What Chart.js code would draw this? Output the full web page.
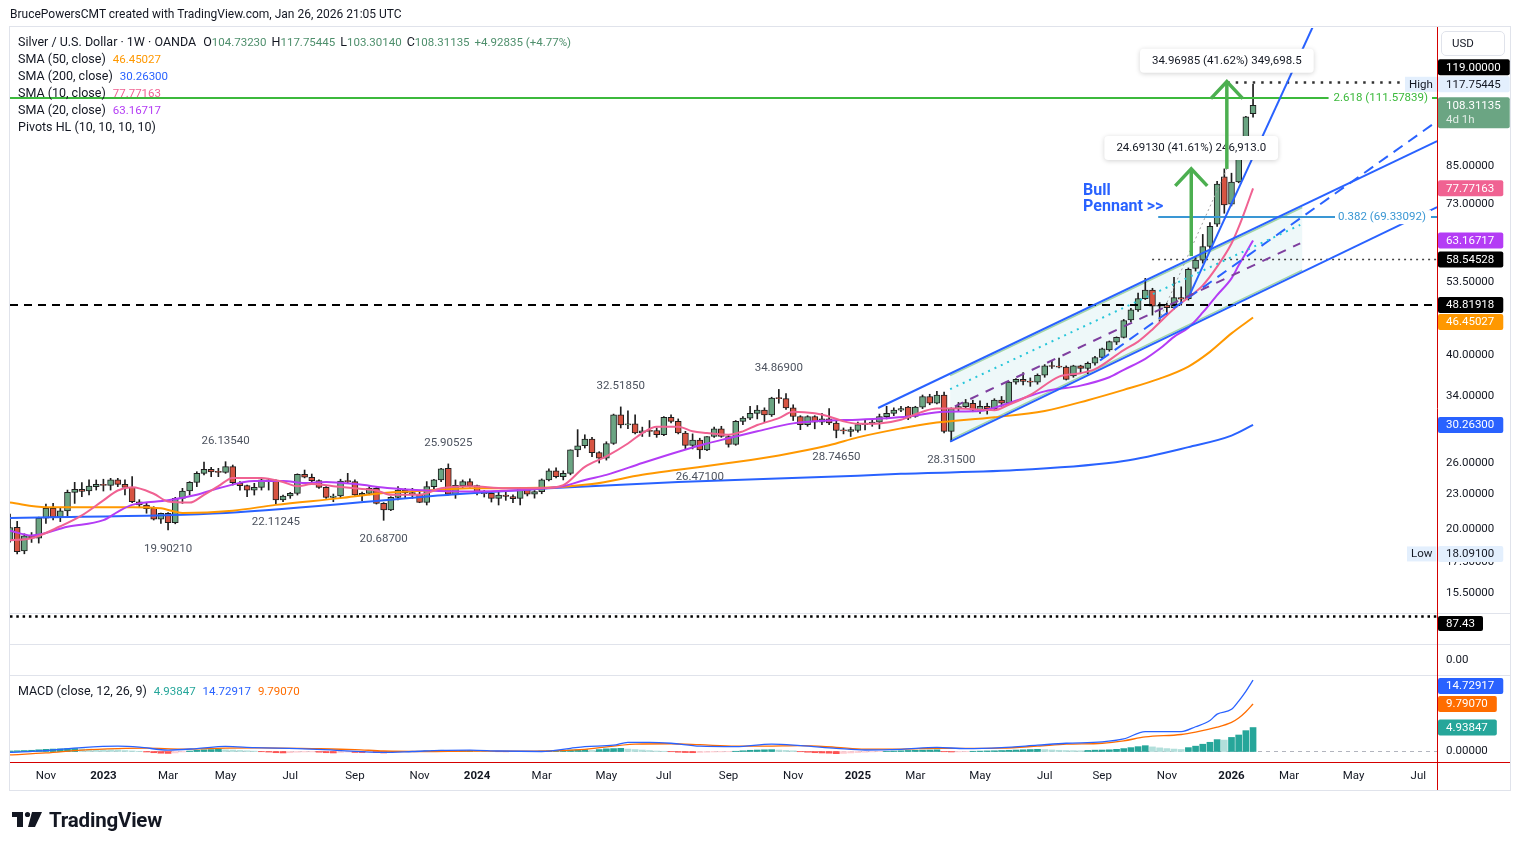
<!DOCTYPE html>
<html><head><meta charset="utf-8"><title>Silver / U.S. Dollar 1W</title>
<script src="https://cdn.jsdelivr.net/npm/chart.js@4.4.1/dist/chart.umd.min.js"></script>
<style>
html,body{margin:0;padding:0;background:#fff;}
body{width:1521px;height:850px;position:relative;overflow:hidden;font-family:Roboto,"Liberation Sans",Arial,sans-serif;color:#131722;}
.a{position:absolute;white-space:nowrap;}
canvas{position:absolute;}
#hdr{left:10px;top:6px;font-size:12px;line-height:16px;}
#legend{left:18px;top:33px;font-size:12.5px;}
#legend > div{height:17px;line-height:17px;overflow:visible;}
#mleg{left:18px;top:682px;font-size:12.5px;height:17px;line-height:17px;}
.g{color:#4e8f6c;font-size:11.5px;line-height:1}
.v{font-size:11.5px;line-height:1}
.sp{margin-left:7px}
.s5{margin-left:5px}
#usd{left:1441px;top:31px;width:64px;height:25px;border:1px solid #e0e3eb;border-radius:5px;box-sizing:border-box;font-size:11.5px;line-height:23px;padding-left:10px;}
#l87{left:1438px;top:616px;height:15px;line-height:15px;padding:0 8px;background:#000;color:#fff;font-size:11.5px;border-radius:2px;}
#l0{left:1446px;top:651px;font-size:11.5px;line-height:16px;}
#tv{left:49px;top:807px;font-size:20.5px;font-weight:bold;letter-spacing:-0.2px;line-height:26px;}
</style></head><body>
<canvas id="main" width="1500" height="585" style="left:10px;top:28px;width:1500px;height:585px"></canvas>
<canvas id="macd" width="1500" height="115" style="left:10px;top:675px;width:1500px;height:115px"></canvas>
<canvas id="fg" width="1521" height="850" style="left:0;top:0;width:1521px;height:850px"></canvas>
<div id="hdr" class="a">BrucePowersCMT created with TradingView.com, Jan 26, 2026 21:05 UTC</div>
<div id="legend" class="a">
<div>Silver / U.S. Dollar · 1W · OANDA<span class="sp">O</span><span class="g">104.73230</span><span class="s5">H</span><span class="g">117.75445</span><span class="s5">L</span><span class="g">103.30140</span><span class="s5">C</span><span class="g">108.31135</span><span class="s5 g">+4.92835 (+4.77%)</span></div>
<div>SMA (50, close)<span class="sp v" style="color:#ff9800">46.45027</span></div>
<div>SMA (200, close)<span class="sp v" style="color:#2962ff">30.26300</span></div>
<div>SMA (10, close)<span class="sp v" style="color:#f06292">77.77163</span></div>
<div>SMA (20, close)<span class="sp v" style="color:#b43cf5">63.16717</span></div>
<div>Pivots HL (10, 10, 10, 10)</div>
</div>
<div id="mleg" class="a">MACD (close, 12, 26, 9)<span class="sp v" style="color:#26a69a">4.93847</span><span class="sp v" style="color:#2962ff">14.72917</span><span class="sp v" style="color:#ff6d00">9.79070</span></div>
<div id="usd" class="a">USD</div>
<div id="l87" class="a">87.43</div>
<div id="l0" class="a">0.00</div>
<div id="tv" class="a">TradingView</div>
<script>
// ---------------- DATA (weekly candles, week 0 = 2022-10-03) ----------------
const weekStart = '2022-10-03';
const opens = [
19.05,20.12,18.31,19.47,19.26,20.87,21.70,20.95,21.48,23.12,
23.40,23.25,23.66,23.88,23.78,24.30,23.88,23.59,22.28,21.99,
21.70,20.78,21.28,20.49,22.58,23.25,24.07,24.95,25.35,25.08,
25.05,25.62,23.98,23.75,23.34,23.59,24.30,24.20,22.43,22.79,
23.03,24.85,24.56,24.23,23.59,22.67,22.79,24.20,24.14,22.88,
23.03,23.50,22.13,21.56,22.67,23.34,23.10,22.97,22.22,23.66,
24.30,25.45,22.90,23.75,24.14,23.75,23.10,23.03,22.58,22.88,
22.73,22.58,23.40,22.95,23.19,24.30,25.20,24.62,24.95,27.40,
27.85,28.60,27.10,26.50,28.10,31.50,30.25,30.40,29.30,29.55,
29.60,29.10,31.20,30.70,29.30,27.90,28.50,27.40,28.90,29.80,
28.90,28.00,30.70,31.10,31.70,32.10,31.50,33.70,33.60,32.40,
31.30,30.30,31.30,30.60,31.00,30.50,29.60,29.50,29.60,30.30,
30.40,30.60,31.28,31.70,32.10,32.50,31.30,32.50,33.90,33.00,
34.10,29.50,32.30,32.55,33.00,32.10,32.60,32.30,33.40,33.00,
35.90,36.30,36.00,35.90,36.90,38.30,38.20,38.10,36.80,38.30,
37.90,38.70,39.60,40.80,42.10,42.90,46.00,47.90,50.10,51.80,
48.60,48.80,48.30,50.30,50.10,56.50,58.40,61.65,67.40,81.40,
73.00,79.80,89.80,104.7323];
const highs = [
21.20,20.60,19.60,19.70,20.95,22.07,22.13,21.70,23.34,24.07,
24.04,24.30,24.30,24.37,24.46,24.46,24.30,24.62,22.46,22.19,
21.84,21.30,21.34,22.67,23.50,24.14,25.11,26.09,25.55,25.45,
26.1354,25.79,24.14,23.81,23.98,24.46,24.37,24.30,22.88,23.12,
24.90,25.28,24.88,24.30,23.66,22.97,24.37,24.95,24.30,23.16,
23.66,23.66,22.20,22.73,23.66,23.50,23.50,23.20,24.14,24.37,
25.45,25.90525,24.30,24.30,24.40,23.80,23.30,23.20,23.20,23.20,
22.90,23.60,23.50,23.30,24.40,25.40,25.50,25.20,27.40,29.70,
29.10,28.80,27.20,28.30,31.60,32.5185,32.00,31.50,30.00,30.80,
29.90,31.30,31.50,31.00,29.50,29.20,28.70,28.90,30.00,30.10,
29.00,30.80,31.30,32.60,32.70,32.40,33.80,34.869,34.30,32.80,
31.40,31.40,31.40,31.70,32.30,30.70,29.90,30.00,30.60,30.86,
30.90,31.60,32.60,32.40,32.60,32.60,32.60,34.10,34.20,34.60,
34.50,32.40,33.10,33.50,33.40,33.30,33.00,33.60,33.90,36.00,
36.40,37.30,36.50,37.10,38.50,39.10,39.50,38.30,38.40,38.40,
38.90,39.80,41.10,42.30,43.00,46.10,48.20,51.20,54.30,52.20,
49.30,49.20,54.50,52.50,56.60,59.00,64.70,67.80,80.00,84.03,
82.60,91.90,103.60,117.75445];
const lows = [
18.95,18.091,18.10,18.94,18.89,20.44,20.71,20.58,21.00,22.13,
22.73,22.88,23.34,23.25,23.34,23.66,22.88,22.20,21.79,21.28,
20.71,20.44,19.9021,20.40,22.13,22.88,23.66,24.78,24.62,24.62,
24.95,23.81,23.34,22.73,22.88,23.34,23.34,22.11245,22.28,22.58,
22.88,24.50,24.04,23.50,22.58,22.28,22.58,23.98,22.85,22.37,
22.90,22.07,20.687,21.50,22.43,22.58,22.58,22.19,21.99,23.40,
24.14,22.88,22.58,23.50,23.60,22.90,22.70,22.25,21.99,22.40,
22.20,21.99,22.80,22.60,23.00,24.20,24.50,24.30,24.80,26.66,
27.60,26.66,26.00,26.30,28.00,29.90,29.80,29.20,28.90,28.90,
28.80,29.00,30.50,29.20,27.50,27.50,26.471,27.30,28.80,28.80,
27.70,27.90,30.30,30.90,31.00,30.60,31.30,33.00,32.20,30.80,
29.70,30.10,29.80,30.30,30.30,28.7465,29.20,28.90,29.40,29.66,
30.10,29.80,31.00,31.40,31.90,30.90,31.20,32.30,32.80,32.90,
29.30,28.315,32.00,32.30,31.90,31.70,31.60,32.10,32.60,32.90,
35.60,35.50,35.30,35.60,36.60,37.90,38.00,36.20,36.60,37.20,
37.10,38.40,39.50,40.60,41.70,42.80,45.70,47.60,49.90,46.90,
45.70,46.90,48.00,48.80,49.80,55.90,57.70,61.20,66.80,70.40,
72.50,79.50,88.90,103.3014];
const closes = [
20.10,18.26,19.44,19.26,20.87,21.70,20.95,21.48,23.12,23.40,
23.22,23.72,23.88,23.78,24.30,23.88,23.59,22.28,21.99,21.67,
20.78,21.28,20.49,22.58,23.25,24.07,24.95,25.35,25.08,25.05,
25.62,24.04,23.75,23.34,23.59,24.30,24.20,22.43,22.79,23.03,
24.85,24.56,24.23,23.59,22.67,22.79,24.20,24.14,22.88,23.03,
23.50,22.13,21.56,22.67,23.34,23.10,22.97,22.22,23.66,24.30,
25.40,22.95,23.78,24.14,23.75,23.10,23.00,22.58,22.88,22.75,
22.55,23.50,22.95,23.19,24.30,25.20,24.62,24.95,27.40,27.85,
28.60,27.10,26.50,28.10,31.50,30.25,30.40,29.30,29.55,29.50,
29.10,31.20,30.70,29.30,27.90,28.50,27.40,28.90,29.80,28.90,
28.00,30.70,31.10,31.70,32.10,31.50,33.70,33.60,32.40,31.30,
30.30,31.30,30.60,31.00,30.50,29.60,29.55,29.70,30.30,30.40,
30.60,31.28,31.70,32.10,32.30,31.10,32.50,33.90,33.00,34.10,
29.50,32.30,32.55,33.10,32.10,32.60,32.30,33.40,33.00,35.90,
36.30,36.00,35.90,36.90,38.30,38.20,38.10,36.30,38.30,37.90,
38.70,39.60,41.00,42.20,42.90,45.90,47.90,50.10,51.80,48.60,
48.80,48.30,50.30,50.00,56.30,58.40,61.65,66.80,79.10,72.80,
79.70,89.80,103.38,108.31135];

// moving averages (week index, value)
const sma10Idx = [0,3,7,10,13,15,17,20,22,25,27,29,31,35,38,40,42,45,48,51,53,57,60,64,69,74,77,80,83,86,88,90,93,95,97,100,102,104,107,109,112,114,116,118,121,124,127,129,132,137,139,142,146,149,151,155,157,159,162,164,166,168,170,171,172,173];
const sma10Val = [19.1,19.26,20.2,21.1,22.4,23.3,23.6,23.0,22.3,22.2,22.9,23.7,24.5,24.5,24.1,23.7,23.9,23.7,23.5,23.3,22.9,22.9,23.5,23.7,23.5,23.5,23.8,25.6,26.7,28.1,29.3,30.05,30.05,29.5,29.3,29.1,29.5,30.25,31.1,31.9,31.7,31.3,30.7,30.4,30.45,30.9,31.9,32.3,32.3,32.1,32.8,34.1,36.7,37.2,37.8,40.8,42.2,44.3,48.1,50.3,52.8,56.9,62.4,66.6,71.8,77.77163];
const sma20Idx = [0,3,8,13,15,17,22,26,29,34,38,41,44,48,53,58,64,70,74,77,80,83,88,93,97,100,104,109,114,118,125,130,135,139,144,149,153,155,158,160,162,164,166,168,170,171,172,173];
const sma20Val = [19.85,19.47,20.17,20.7,21.4,22.0,22.4,22.9,23.5,24.2,24.2,24.0,24.1,23.9,23.5,23.3,23.2,23.3,23.5,23.7,24.3,24.8,26.0,27.2,28.1,28.7,29.5,30.45,30.8,30.9,31.3,31.9,32.0,33.0,34.6,35.4,36.6,37.7,39.4,41.0,43.0,44.6,47.4,50.8,54.3,57.2,60.1,63.16717];
const sma50Idx = [0,5,17,21,24,31,37,46,51,58,64,74,81,88,93,100,107,114,118,124,128,137,144,150,155,160,164,167,170,173];
const sma50Val = [22.2,21.8,21.8,21.7,21.3,21.5,22.0,22.6,23.0,23.3,23.5,23.55,23.9,24.8,25.3,26.0,26.8,27.9,28.8,29.85,30.45,31.2,32.0,33.4,34.8,36.4,38.2,40.5,43.6,46.45027];
const sma200Idx = [0,30,62,75,93,118,124,141,155,164,170,173];
const sma200Val = [20.87,21.3,22.95,23.5,24.1,24.7,24.9,25.3,26.2,27.7,29.0,30.263];

// MACD (12, 26, 9)
const macdIdx = [0,5,10,15,18,22,26,30,34,40,45,52,56,60,64,68,74,78,80,84,86,89,92,96,101,106,110,115,119,124,129,133,138,143,147,152,155,158,161,163,165,167,168,170,171,172,173];
const macdVal = [-0.2,0.2,0.8,1.1,0.9,0.3,0.6,1.05,0.8,0.6,0.3,-0.2,0.0,0.25,0.3,0.1,0.0,0.66,1.0,1.3,1.9,1.9,1.7,1.1,1.0,1.5,1.2,0.66,0.31,0.45,0.85,0.6,0.8,1.3,1.7,1.98,2.6,4.1,4.1,4.1,5.1,6.4,7.7,8.7,10.4,12.4,14.72917];
const signalIdx = [0,5,10,15,19,24,30,35,42,48,52,58,64,70,75,80,87,92,96,101,105,110,115,119,124,129,133,138,143,147,152,155,158,163,165,168,170,171,172,173];
const signalVal = [-0.7,-0.3,0.3,0.6,0.7,0.5,0.7,0.75,0.6,0.4,0.1,0.0,0.1,0.05,0.1,0.45,1.5,1.6,1.4,1.1,1.1,1.2,0.85,0.5,0.5,0.66,0.66,0.7,1.1,1.5,1.7,2.2,3.0,3.5,4.0,5.0,6.0,6.9,8.2,9.7907];
const hist = [
0.10,0.15,0.20,0.25,0.35,0.45,0.50,0.55,0.60,0.62,
0.55,0.50,0.45,0.40,0.35,0.30,0.20,0.12,0.05,-0.10,
-0.25,-0.35,-0.40,-0.30,-0.10,0.10,0.25,0.35,0.40,0.45,
0.35,0.30,0.22,0.15,0.08,-0.05,-0.12,-0.25,-0.30,-0.25,
-0.15,-0.10,-0.08,-0.15,-0.25,-0.30,-0.20,-0.12,-0.20,-0.22,
-0.15,-0.22,-0.30,-0.20,-0.10,-0.05,0.02,0.05,0.12,0.18,
0.25,0.20,0.15,0.18,0.20,0.12,0.08,0.02,-0.05,-0.06,
-0.04,0.00,0.03,0.02,0.08,0.12,0.18,0.22,0.30,0.35,
0.38,0.22,0.40,0.55,0.60,0.65,0.50,0.40,0.30,0.20,
0.10,0.05,-0.05,-0.15,-0.22,-0.25,-0.20,-0.15,-0.10,-0.08,
-0.05,0.05,0.15,0.25,0.30,0.35,0.38,0.30,0.22,0.15,
-0.05,-0.15,-0.25,-0.30,-0.35,-0.45,-0.40,-0.30,-0.22,-0.15,
-0.08,-0.03,0.05,0.10,0.15,0.22,0.25,0.28,0.30,0.35,
-0.05,-0.10,-0.08,-0.05,0.05,0.08,0.12,0.15,0.20,0.25,
0.30,0.35,0.40,0.45,0.40,0.32,0.25,0.20,0.18,0.15,
0.22,0.28,0.30,0.35,0.45,0.60,0.80,1.00,1.20,0.95,
0.75,0.60,0.50,0.42,0.80,1.10,1.50,1.90,2.45,2.35,
2.90,3.40,4.30,4.93847];

// time axis labels (week index of first bar of month)
const tickWeeks  = [5,13,22,30,39,48,57,65,74,83,91,100,109,118,126,135,144,152,161,170,178,187,196];
const tickLabels = ['Nov','2023','Mar','May','Jul','Sep','Nov','2024','Mar','May','Jul','Sep','Nov','2025','Mar','May','Jul','Sep','Nov','2026','Mar','May','Jul'];
const priceTicks = [100,85,73,62,53.5,46,40,34,30,26,23,20,17.5,15.5];

// pivots HL
const pivotIdx  = [30,61,85,107,22,37,52,96,115,131];
const pivotVal  = [26.1354,25.90525,32.5185,34.869,19.9021,22.11245,20.687,26.471,28.7465,28.315];
const pivotKind = ['H','H','H','H','L','L','L','L','L','L'];

// right-axis price tags
const tagPrice = [117.75445,108.31135,77.77163,63.16717,58.54528,48.81918,30.263,18.091,119.0,46.45027];
const tagText  = ['117.75445','108.31135','77.77163','63.16717','58.54528','48.81918','30.26300','18.09100','119.00000','46.45027'];
const tagBg    = ['#e3effd','#6ba583','#f06292','#b43cf5','#000000','#000000','#2962ff','#e3effd','#000000','#ff9800'];
const tagFg    = ['#131722','#ffffff','#ffffff','#ffffff','#ffffff','#ffffff','#ffffff','#131722','#ffffff','#ffffff'];
const macdTagVal = [14.72917,9.7907,4.93847];
const macdTagBg  = ['#2962ff','#ff6d00','#26a69a'];

// drawings (week index, price)
const pennantIdx = [130.84,179.84,179.84,130.84];
const pennantP   = [37.14,72.62,55.66,28.315];
const trendLines = [
  {i:[120.82,198.62], p:[32.38,93.9],   color:'#2962ff', w:2,   dash:[]},
  {i:[130.84,198.62], p:[28.315,72.13], color:'#2962ff', w:2,   dash:[]},
  {i:[151.7,198.6],   p:[39.13,101.6],  color:'#2962ff', w:2,   dash:[11,7]},
  {i:[163.97,182.9],  p:[50.2,163.5],   color:'#2962ff', w:2,   dash:[]},
  {i:[130.84,179.56], p:[34.9,67.2],    color:'#26c6da', w:2,   dash:[2,5]},
  {i:[131.5,179.56],  p:[32.6,62.45],   color:'#7e3f9f', w:2,   dash:[9,8]},
  {i:[159.9,169.4],   p:[45.9,84.3],    color:'#a0a0a0', w:1,   dash:[2,3]}
];
const hLines = [
  {p:111.57839, i0:0,      i1:198.6, color:'#3cb93c', w:2,   dash:[]},
  {p:69.33092,  i0:159.8,  i1:198.6, color:'#3a97d4', w:2,   dash:[]},
  {p:48.81918,  i0:0,      i1:198.6, color:'#000000', w:2,   dash:[8,6]},
  {p:58.54528,  i0:158.95, i1:198.6, color:'#444444', w:1.5, dash:[2,4]},
  {p:119.0,     i0:169.4,  i1:198.6, color:'#333333', w:2.5, dash:[2.5,6]}
];
const arrowIdx  = [164.4,169.35];
const arrowFrom = [59.34,84.03];
const arrowTo   = [84.03,119.0];
const arrowText = ['24.69130 (41.61%) 246,913.0','34.96985 (41.62%) 349,698.5'];

// ---------------- RENDERING ----------------
const FONT = 'Roboto, "Liberation Sans", Arial, sans-serif';
const FS = 11.5;
const UP = '#6ba583', DN = '#d75442', EDGE = '#1e1e1e';
const X_MIN = 0, X_MAX = 198.6;
const Y_MIN = 14.293, Y_MAX = 147.40;

const idx = opens.map((_, i) => i);
const pts = (ix, v) => ix.map((x, k) => ({x, y: v[k]}));

function X(c, i){ return c.scales.x.getPixelForValue(i); }
function Y(c, p){ return c.scales.y.getPixelForValue(p); }
function seg(ctx, x1, y1, x2, y2){ ctx.beginPath(); ctx.moveTo(x1, y1); ctx.lineTo(x2, y2); ctx.stroke(); }
function rrect(ctx, x, y, w, h, r){ ctx.beginPath(); if (ctx.roundRect) ctx.roundRect(x, y, w, h, r); else ctx.rect(x, y, w, h); }
function clipArea(c){ const a = c.chartArea; c.ctx.save(); c.ctx.beginPath(); c.ctx.rect(a.left, a.top, a.right - a.left, a.bottom - a.top); c.ctx.clip(); }
function noPad(s){ s.paddingTop = 0; s.paddingBottom = 0; s.paddingLeft = 0; s.paddingRight = 0; }

const mainPlugin = {
  id: 'mainAnn',
  beforeDatasetsDraw(c){
    const ctx = c.ctx;
    clipArea(c);
    ctx.beginPath();
    pennantIdx.forEach((i, k) => { const x = X(c, i), y = Y(c, pennantP[k]); if (k) ctx.lineTo(x, y); else ctx.moveTo(x, y); });
    ctx.closePath(); ctx.fillStyle = 'rgba(0,150,160,0.065)'; ctx.fill();
    ctx.strokeStyle = 'rgba(110,190,110,0.6)'; ctx.lineWidth = 1.5;
    seg(ctx, X(c, pennantIdx[0]), Y(c, pennantP[0]) + 2, X(c, pennantIdx[1]), Y(c, pennantP[1]) + 2);
    seg(ctx, X(c, pennantIdx[3]), Y(c, pennantP[3]) - 2, X(c, pennantIdx[2]), Y(c, pennantP[2]) - 2);
    ctx.restore();
  },
  afterDatasetsDraw(c){
    const ctx = c.ctx;
    clipArea(c);
    ctx.lineCap = 'butt';
    hLines.forEach(h => {
      ctx.strokeStyle = h.color; ctx.lineWidth = h.w; ctx.setLineDash(h.dash);
      const y = Math.round(Y(c, h.p)) + (h.w % 2 ? 0.5 : 0);
      seg(ctx, X(c, h.i0), y, X(c, h.i1), y);
    });
    trendLines.forEach(t => {
      ctx.strokeStyle = t.color; ctx.lineWidth = t.w; ctx.setLineDash(t.dash);
      seg(ctx, X(c, t.i[0]), Y(c, t.p[0]), X(c, t.i[1]), Y(c, t.p[1]));
    });
    ctx.setLineDash([]);
    // fib labels
    ctx.font = `${FS}px ${FONT}`; ctx.textBaseline = 'middle';
    let y = Y(c, hLines[0].p), w = ctx.measureText('2.618 (111.57839)').width;
    ctx.fillStyle = '#fff'; ctx.fillRect(1418 - w - 5, y - 7, w + 9, 14);
    ctx.fillStyle = '#3cb93c'; ctx.textAlign = 'right'; ctx.fillText('2.618 (111.57839)', 1418, y);
    y = Y(c, hLines[1].p); w = ctx.measureText('0.382 (69.33092)').width;
    ctx.fillStyle = '#fff'; ctx.fillRect(1325, y - 7, w + 8, 14);
    ctx.fillStyle = '#3a97d4'; ctx.textAlign = 'left'; ctx.fillText('0.382 (69.33092)', 1328, y);
    // arrows + measure boxes
    arrowIdx.forEach((ai, k) => {
      const x = X(c, ai), y0 = Y(c, arrowFrom[k]), y1 = Y(c, arrowTo[k]);
      ctx.strokeStyle = '#4caf50'; ctx.lineWidth = 3.5; ctx.lineJoin = 'miter';
      seg(ctx, x, y0, x, y1);
      ctx.beginPath(); ctx.moveTo(x - 16, y1 + 17); ctx.lineTo(x, y1); ctx.lineTo(x + 16, y1 + 17); ctx.stroke();
      ctx.font = `${FS}px ${FONT}`;
      const tw = ctx.measureText(arrowText[k]).width + 24, bx = x - tw / 2, by = y1 - 33;
      ctx.save(); ctx.shadowColor = 'rgba(0,0,0,0.18)'; ctx.shadowBlur = 5; ctx.shadowOffsetY = 1;
      ctx.fillStyle = '#fff'; rrect(ctx, bx, by, tw, 24, 4); ctx.fill(); ctx.restore();
      ctx.fillStyle = '#131722'; ctx.textAlign = 'center'; ctx.fillText(arrowText[k], x, by + 12.5);
    });
    // Bull Pennant
    ctx.font = `bold 16px ${FONT}`; ctx.fillStyle = '#2962ff'; ctx.textAlign = 'left';
    const bx = X(c, 149.35), by = Y(c, 76.9);
    ctx.fillText('Bull', bx, by); ctx.fillText('Pennant >>', bx, by + 16);
    // pivots
    ctx.font = `${FS}px ${FONT}`; ctx.fillStyle = '#4c525e'; ctx.textAlign = 'center';
    pivotIdx.forEach((pi, k) => {
      const yy = Y(c, pivotVal[k]) + (pivotKind[k] === 'H' ? -21 : 19);
      ctx.fillText(pivotVal[k].toFixed(5), X(c, pi), yy);
    });
    ctx.restore();
  },
  afterDraw(c){
    const ctx = c.ctx;
    ctx.save();
    ctx.font = `${FS}px ${FONT}`; ctx.textBaseline = 'middle'; ctx.textAlign = 'left';
    // High / Low tags
    [['High', highs[173], 1395], ['Low', lows[1], 1397]].forEach(([t, p, x]) => {
      const y = Y(c, p), tw = ctx.measureText(t).width;
      ctx.fillStyle = '#e3effd'; ctx.fillRect(x, y - 7.5, tw + 8, 15);
      ctx.fillStyle = '#131722'; ctx.fillText(t, x + 4, y + 0.5);
    });
    // price tags with collision avoidance
    const placed = [];
    tagPrice.forEach((p, k) => {
      const yc = Y(c, p), h = k === 1 ? 31 : 16;
      let top = yc - 8;
      for (let it = 0; it < 4; it++) {
        let moved = false;
        placed.forEach(o => {
          if (top < o.top + o.h && top + h > o.top) {
            top = (yc < o.top + o.h / 2) ? o.top - h - 1 : o.top + o.h + 1; moved = true;
          }
        });
        if (!moved) break;
      }
      placed.push({top, h});
      const tw = ctx.measureText(tagText[k]).width;
      ctx.fillStyle = tagBg[k]; rrect(ctx, 1428, top, tw + 17, h, 2); ctx.fill();
      ctx.fillStyle = tagFg[k]; ctx.fillText(tagText[k], 1436, top + 8.5);
      if (k === 1) { ctx.fillStyle = 'rgba(255,255,255,0.8)'; ctx.fillText('4d 1h', 1436, top + 23); }
    });
    ctx.restore();
  }
};

new Chart(document.getElementById('main'), {
  type: 'bar',
  data: { datasets: [
    {type:'line', data:pts(sma200Idx, sma200Val), borderColor:'#2962ff', borderWidth:2, pointRadius:0, cubicInterpolationMode:'monotone', order:-1},
    {type:'line', data:pts(sma50Idx, sma50Val),   borderColor:'#ff9800', borderWidth:2, pointRadius:0, cubicInterpolationMode:'monotone', order:-2},
    {type:'line', data:pts(sma20Idx, sma20Val),   borderColor:'#b43cf5', borderWidth:2, pointRadius:0, cubicInterpolationMode:'monotone', order:-3},
    {type:'line', data:pts(sma10Idx, sma10Val),   borderColor:'#f06292', borderWidth:2, pointRadius:0, cubicInterpolationMode:'monotone', order:-4},
    {label:'wick', data: idx.map(i => ({x:i, y:[lows[i], highs[i]]})), backgroundColor: EDGE, barThickness:1, grouped:false, order:2},
    {label:'body', data: idx.map(i => ({x:i, y:[opens[i], closes[i]]})),
      backgroundColor: idx.map(i => closes[i] >= opens[i] ? UP : DN), borderColor: EDGE, borderWidth:1,
      borderSkipped:false, barThickness:6, minBarLength:1, grouped:false, order:1}
  ]},
  options: {
    responsive:false, animation:false, events:[], devicePixelRatio:1,
    layout:{padding:0},
    plugins:{legend:{display:false}, tooltip:{enabled:false}},
    scales:{
      x:{type:'linear', min:X_MIN, max:X_MAX, display:false, offset:false},
      y:{type:'logarithmic', position:'right', min:Y_MIN, max:Y_MAX, beginAtZero:false,
         grid:{display:false, drawTicks:false}, border:{display:false},
         afterFit(s){ s.width = 73; noPad(s); },
         afterBuildTicks(s){ s.ticks = priceTicks.map(v => ({value:v})); },
         ticks:{autoSkip:false, padding:9, color:'#131722', font:{family:FONT, size:FS}, callback: v => Number(v).toFixed(5)}}
    }
  },
  plugins:[mainPlugin]
});

// MACD pane
const histColors = hist.map((h, i) => {
  const prev = i ? hist[i - 1] : h;
  if (h >= 0) return h >= prev ? '#26a69a' : '#b2dfdb';
  return h <= prev ? '#ff5252' : '#ffcdd2';
});
const macdPlugin = {
  id:'macdAnn',
  beforeDatasetsDraw(c){
    const ctx = c.ctx, a = c.chartArea, y = Math.round(c.scales.y.getPixelForValue(0)) + 0.5;
    ctx.save(); ctx.strokeStyle = '#b2b5be'; ctx.lineWidth = 1; ctx.setLineDash([4,4]);
    seg(ctx, a.left, y, a.right, y); ctx.restore();
  },
  afterDraw(c){
    const ctx = c.ctx, a = c.chartArea;
    ctx.save(); ctx.font = `${FS}px ${FONT}`; ctx.textBaseline = 'middle'; ctx.textAlign = 'left';
    macdTagVal.forEach((v, k) => {
      let yc = c.scales.y.getPixelForValue(v);
      yc = Math.max(yc, a.top + 11);
      const t = v.toFixed(5), tw = ctx.measureText(t).width;
      ctx.fillStyle = macdTagBg[k]; rrect(ctx, 1428, yc - 8, tw + 17, 16, 2); ctx.fill();
      ctx.fillStyle = '#fff'; ctx.fillText(t, 1436, yc + 0.5);
    });
    ctx.restore();
  }
};
new Chart(document.getElementById('macd'), {
  type:'bar',
  data:{ datasets:[
    {type:'line', data:pts(macdIdx, macdVal), borderColor:'#2962ff', borderWidth:1.3, pointRadius:0, cubicInterpolationMode:'monotone', order:-2},
    {type:'line', data:pts(signalIdx, signalVal), borderColor:'#ff6d00', borderWidth:1.3, pointRadius:0, cubicInterpolationMode:'monotone', order:-1},
    {data: idx.map(i => ({x:i, y:hist[i]})), backgroundColor: histColors, barThickness:6, grouped:false, order:1}
  ]},
  options:{
    responsive:false, animation:false, events:[], devicePixelRatio:1,
    layout:{padding:0},
    plugins:{legend:{display:false}, tooltip:{enabled:false}},
    scales:{
      x:{type:'linear', min:X_MIN, max:X_MAX, offset:false,
         grid:{display:false, drawTicks:false}, border:{display:false},
         afterFit(s){ s.height = 28; noPad(s); },
         afterBuildTicks(s){ s.ticks = tickWeeks.map(v => ({value:v})); },
         ticks:{autoSkip:false, maxRotation:0, padding:7, color:'#131722',
           font: ctx => ({family:FONT, size:FS, weight: (ctx.tick && /^\d{4}$/.test(tickLabels[tickWeeks.indexOf(ctx.tick.value)] || '')) ? 'bold' : 'normal'}),
           callback: v => { const k = tickWeeks.indexOf(v); return k >= 0 ? tickLabels[k] : ''; }}},
      y:{type:'linear', position:'right', min:-2.165, max:15.77,
         grid:{display:false, drawTicks:false}, border:{display:false},
         afterFit(s){ s.width = 73; noPad(s); },
         afterBuildTicks(s){ s.ticks = [{value:0}]; },
         ticks:{autoSkip:false, padding:9, color:'#131722', font:{family:FONT, size:FS}, callback: v => Number(v).toFixed(5)}}
    }
  },
  plugins:[macdPlugin]
});

// frame, pane separators, axis lines, logo
(function(){
  const ctx = document.getElementById('fg').getContext('2d');
  ctx.strokeStyle = '#e0e3eb'; ctx.lineWidth = 1;
  ctx.strokeRect(9.5, 26.5, 1501, 764);
  [613.5, 644.5, 675.5].forEach(y => seg(ctx, 10, y, 1510, y));
  ctx.setLineDash([2.5, 3.8]); ctx.lineWidth = 2.5; ctx.strokeStyle = '#000';
  seg(ctx, 10, 616.5, 1437, 616.5);
  ctx.setLineDash([]); ctx.lineWidth = 1; ctx.strokeStyle = '#d40000';
  seg(ctx, 1437.5, 27, 1437.5, 790);
  seg(ctx, 10, 762.5, 1510, 762.5);
  ctx.fillStyle = '#131722';
  ctx.fillRect(12, 812, 11, 5); ctx.fillRect(17, 812, 6, 15);
  ctx.beginPath(); ctx.arc(27.5, 814.5, 2.6, 0, Math.PI * 2); ctx.fill();
  ctx.beginPath(); ctx.moveTo(32, 812); ctx.lineTo(42, 812); ctx.lineTo(35, 827); ctx.lineTo(28, 827); ctx.closePath(); ctx.fill();
})();
</script>
</body></html>
